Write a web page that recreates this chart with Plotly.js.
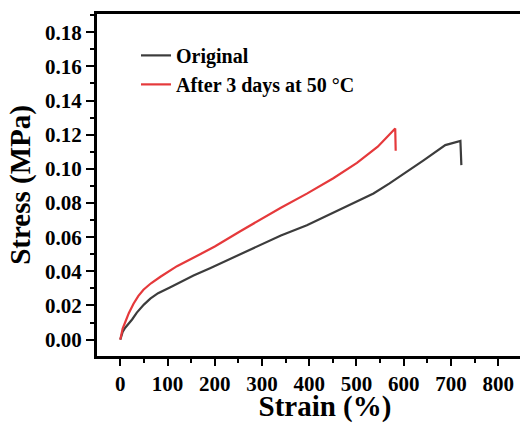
<!DOCTYPE html>
<html>
<head>
<meta charset="utf-8">
<script src="https://cdn.plot.ly/plotly-3.0.1.min.js"></script>
<style>
html, body { margin: 0; padding: 0; overflow: hidden; background: #fff; }
#chart { width: 560px; height: 423px; }
</style>
</head>
<body>
<div id="chart"></div>
<script>
// Data
const seriesNames = ["Original", "After 3 days at 50 °C"];

const originalStrain = [0, 2, 5, 10, 17.6, 25, 35, 50, 63.5, 80, 106, 130, 155, 190, 254, 286, 340, 395, 460, 500, 536, 570, 600, 642, 688, 720, 722];
const originalStress = [0, 0.002, 0.0045, 0.0068, 0.0092, 0.0118, 0.0158, 0.0205, 0.024, 0.0272, 0.0307, 0.0342, 0.0375, 0.0418, 0.0502, 0.0543, 0.061, 0.067, 0.0755, 0.0805, 0.0856, 0.0915, 0.097, 0.105, 0.1139, 0.1163, 0.1022];

const agedStrain = [0, 2, 5, 10.6, 18, 28, 38, 49, 65, 85, 100, 120, 169, 200, 254, 310, 340, 395, 451, 501, 545, 582, 583];
const agedStress = [0, 0.003, 0.0065, 0.0103, 0.0155, 0.021, 0.0255, 0.0292, 0.033, 0.0368, 0.0395, 0.043, 0.050, 0.0545, 0.0635, 0.0725, 0.0772, 0.0855, 0.0945, 0.1035, 0.113, 0.1237, 0.1106];

const xTickVals = [0, 100, 200, 300, 400, 500, 600, 700, 800, 900];
const yTickVals = [0, 0.02, 0.04, 0.06, 0.08, 0.10, 0.12, 0.14, 0.16, 0.18];

const serif = "Liberation Serif, Times New Roman, serif";

const traces = [
  { x: originalStrain, y: originalStress, name: seriesNames[0], type: "scatter", mode: "lines",
    line: { color: "#3c3c3c", width: 2.2 } },
  { x: agedStrain, y: agedStress, name: seriesNames[1], type: "scatter", mode: "lines",
    line: { color: "#e5393b", width: 2.2 } }
];

const layout = {
  width: 560, height: 423,
  margin: { l: 97, r: 7, t: 14, b: 67 },
  paper_bgcolor: "#ffffff", plot_bgcolor: "#ffffff",
  font: { family: serif, color: "#000", weight: "bold" },
  showlegend: true,
  legend: {
    x: 0.0855, y: 0.936, xanchor: "left", yanchor: "top",
    bgcolor: "rgba(0,0,0,0)", borderwidth: 0,
    font: { family: serif, size: 20, color: "#000", weight: "bold" }
  },
  xaxis: {
    range: [-49.3, 916],
    tickvals: xTickVals, ticktext: xTickVals.map(v => String(v)),
    ticks: "outside", ticklen: 7, tickwidth: 2, tickcolor: "#000",
    minor: { dtick: 50, ticks: "outside", ticklen: 4, tickwidth: 2, tickcolor: "#000" },
    showline: true, linewidth: 3, linecolor: "#000", mirror: true,
    showgrid: false, zeroline: false,
    tickfont: { family: serif, size: 21, color: "#000", weight: "bold" },
    title: { text: "Strain (%)", font: { family: serif, size: 29, color: "#000", weight: "bold" }, standoff: 2 }
  },
  yaxis: {
    range: [-0.0096, 0.1907],
    tickvals: yTickVals, ticktext: yTickVals.map(v => v.toFixed(2)),
    ticks: "outside", ticklen: 8, tickwidth: 2, tickcolor: "#000",
    minor: { dtick: 0.01, ticks: "outside", ticklen: 4, tickwidth: 2, tickcolor: "#000" },
    showline: true, linewidth: 3, linecolor: "#000", mirror: true,
    showgrid: false, zeroline: false,
    tickfont: { family: serif, size: 21, color: "#000", weight: "bold" },
    title: { text: "Stress (MPa)", font: { family: serif, size: 29, color: "#000", weight: "bold" }, standoff: 6 }
  }
};

Plotly.newPlot("chart", traces, layout, { displayModeBar: false, staticPlot: true });
</script>
</body>
</html>
